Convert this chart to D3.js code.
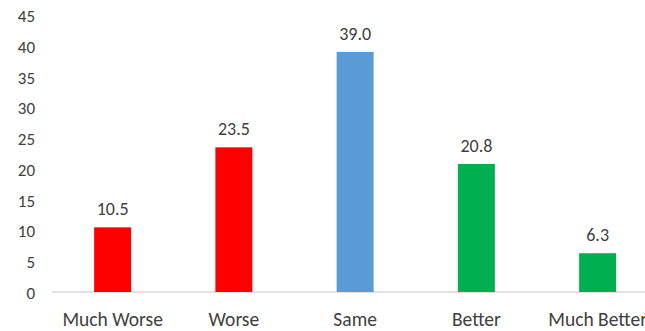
<!DOCTYPE html>
<html><head><meta charset="utf-8">
<script src="https://cdn.jsdelivr.net/npm/d3@7"></script>
<style>body{margin:0;background:#fff}svg{display:block}text{font-family:Carlito,Lato,"Open Sans",sans-serif;fill:#404040}</style>
</head><body><svg id="c" width="645" height="331"></svg>
<script>
const categories = ["Much Worse","Worse","Same","Better","Much Better"];
const values = [10.5, 23.5, 39.0, 20.8, 6.3];
const barColors = ["#FF0000","#FF0000","#5B9BD5","#00B050","#00B050"];
const yTicks = [0,5,10,15,20,25,30,35,40,45];

const FS = 17;
const FF = "Carlito,Lato,'Open Sans',sans-serif";
const svg = d3.select("#c");
const x0 = 52, step = 121.25;
const x = d3.scaleBand().domain(categories).range([x0, x0 + step*5]).paddingInner(0.695).paddingOuter(0.3475);
const y = d3.scaleLinear().domain([0,45]).range([292,15]);

// baseline
svg.append("line").attr("x1",x0).attr("x2",645).attr("y1",y(0)).attr("y2",y(0))
  .attr("stroke","#D9D9D9").attr("stroke-width",1.3);

// y axis labels
const ya = svg.append("g").attr("transform","translate(41,0)").call(d3.axisLeft(y).tickValues(yTicks).tickSize(0).tickPadding(6));
ya.select(".domain").remove();
ya.selectAll("text").attr("font-size",FS).attr("fill","#404040").attr("dy","0.38em").style("font-family",FF);

// bars
svg.selectAll("rect.bar").data(values).enter().append("rect")
  .attr("x",(d,i)=>x(categories[i])).attr("width",x.bandwidth())
  .attr("y",d=>y(d)).attr("height",d=>y(0)-y(d)).attr("fill",(d,i)=>barColors[i]);

// value labels
svg.selectAll("text.val").data(values).enter().append("text")
  .attr("x",(d,i)=>x(categories[i])+x.bandwidth()/2).attr("y",d=>y(d)-12)
  .attr("text-anchor","middle").attr("font-size",FS+1).text(d=>d.toFixed(1));

// x axis labels
const xa = svg.append("g").attr("transform",`translate(0,${y(0)})`).call(d3.axisBottom(x).tickSize(0).tickPadding(20));
xa.select(".domain").remove();
xa.selectAll("text").attr("font-size",19.5).attr("fill","#404040").style("font-family",FF);
</script></body></html>
